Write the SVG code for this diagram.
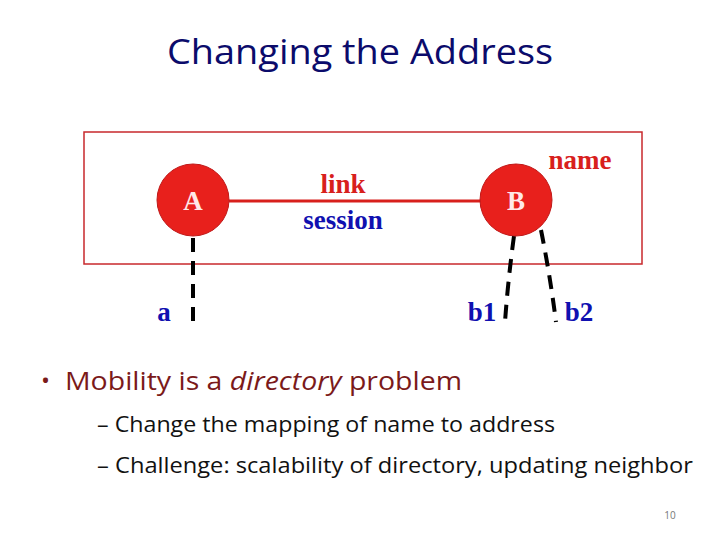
<svg xmlns="http://www.w3.org/2000/svg" width="720" height="540" viewBox="0 0 720 540">
<style>
.node{fill:#E8201C;stroke:#C01818;stroke-width:1}
.nl{font-family:"Liberation Serif",serif;font-weight:bold;font-size:27px;fill:#FFE8E8;text-anchor:middle}
.lbl{font-family:"Liberation Serif",serif;font-weight:bold;font-size:27px}
.dash{stroke:#000;stroke-width:4;fill:none;stroke-dasharray:14,9}
.body{font-family:"Open Sans","Liberation Sans",sans-serif}
</style>
<rect width="720" height="540" fill="#fff"/>
<text x="360" y="64" class="body" font-size="35" fill="#0B0B6B" text-anchor="middle" textLength="386" lengthAdjust="spacingAndGlyphs">Changing the Address</text>
<rect x="84" y="132" width="558" height="132" fill="none" stroke="#C8282C" stroke-width="1.5"/>
<g id="connectors">
<line x1="229" y1="201" x2="481" y2="201" stroke="#D8201C" stroke-width="3"/>
<path class="dash" d="M193,238 L193,327"/>
<path class="dash" d="M514,236 Q508,280 505,322"/>
<path class="dash" d="M541,230 Q550,275 556,322"/>
</g>
<g id="A"><circle class="node" cx="193" cy="200" r="36"/><text class="nl" x="193" y="210">A</text></g>
<g id="B"><circle class="node" cx="516" cy="200" r="36"/><text class="nl" x="516" y="210">B</text></g>
<text class="lbl" x="343" y="193" fill="#D8201C" text-anchor="middle">link</text>
<text class="lbl" x="343" y="229" fill="#1010B0" text-anchor="middle">session</text>
<text class="lbl" x="580" y="169" fill="#D8201C" text-anchor="middle">name</text>
<text class="lbl" x="164" y="321" fill="#1010B0" text-anchor="middle">a</text>
<text class="lbl" x="482" y="321" fill="#1010B0" text-anchor="middle">b1</text>
<text class="lbl" x="579" y="321" fill="#1010B0" text-anchor="middle">b2</text>
<g class="body">
<text x="41" y="389" font-size="24" fill="#7B1A1A">•</text>
<text x="65" y="390" font-size="25" fill="#7B1A1A" textLength="397" lengthAdjust="spacingAndGlyphs">Mobility is a <tspan font-style="italic">directory</tspan> problem</text>
<text x="97" y="432" font-size="22" fill="#111" textLength="458" lengthAdjust="spacingAndGlyphs">– Change the mapping of name to address</text>
<text x="97" y="473" font-size="22" fill="#111" textLength="596" lengthAdjust="spacingAndGlyphs">– Challenge: scalability of directory, updating neighbor</text>
<text x="670" y="519" font-size="10" fill="#777" text-anchor="middle">10</text>
</g>
</svg>
